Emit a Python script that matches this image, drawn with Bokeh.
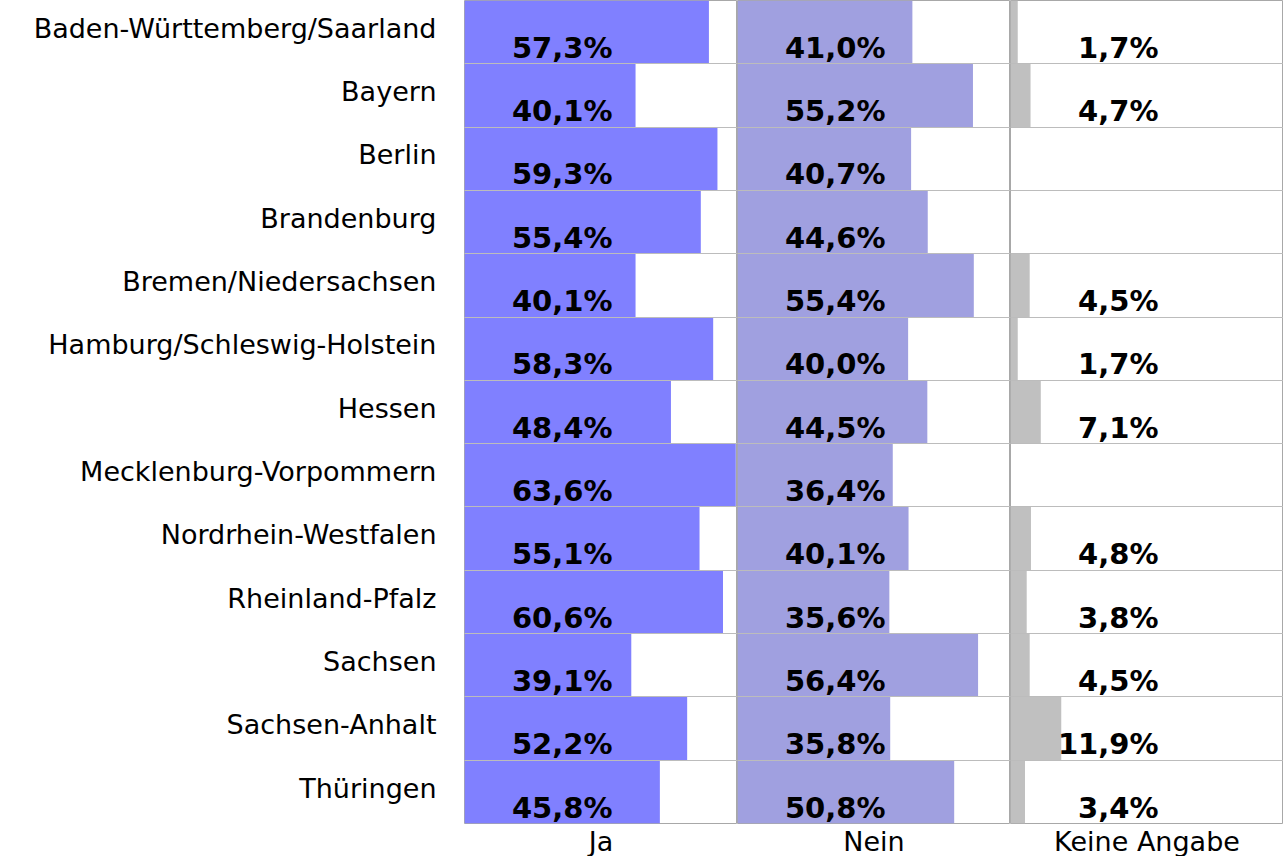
from bokeh.plotting import figure
from bokeh.layouts import row
from bokeh.models import ColumnDataSource, Range1d, FixedTicker, CustomJSTickFormatter, Grid, Title
from bokeh.core.properties import value
from bokeh.embed import file_html
from bokeh.resources import INLINE

states = [
    "Baden-Württemberg/Saarland", "Bayern", "Berlin", "Brandenburg",
    "Bremen/Niedersachsen", "Hamburg/Schleswig-Holstein", "Hessen",
    "Mecklenburg-Vorpommern", "Nordrhein-Westfalen", "Rheinland-Pfalz",
    "Sachsen", "Sachsen-Anhalt", "Thüringen",
]
ja = [57.3, 40.1, 59.3, 55.4, 40.1, 58.3, 48.4, 63.6, 55.1, 60.6, 39.1, 52.2, 45.8]
nein = [41.0, 55.2, 40.7, 44.6, 55.4, 40.0, 44.5, 36.4, 40.1, 35.6, 56.4, 35.8, 50.8]
keine = [1.7, 4.7, None, None, 4.5, 1.7, 7.1, None, 4.8, 3.8, 4.5, 11.9, 3.4]
panel_names = ["Ja", "Nein", "Keine Angabe"]

H = 856
N = len(states)
FONT = "DejaVu Sans"
GRID_COLOR = "#bcbcbc"
OUTLINE_COLOR = "#a8a8a8"


def fmt(v):
    return f"{v:.1f}".replace(".", ",") + "%"


def make_panel(values, color, xmax, width, name, with_labels=False):
    idx = [i for i, v in enumerate(values) if v is not None]
    src = ColumnDataSource(dict(
        y=[i + 0.5 for i in idx],
        ytxt=[i + 1 for i in idx],
        v=[values[i] for i in idx],
        lab=[fmt(values[i]) for i in idx],
    ))
    p = figure(width=width, height=H, x_range=Range1d(0, xmax), y_range=Range1d(N, 0),
               output_backend="svg", toolbar_location=None,
               x_axis_location=None, y_axis_location="left" if with_labels else None,
               min_border=0)
    p.min_border_left = 464 if with_labels else 0
    p.min_border_right = 0
    p.min_border_top = 0
    p.min_border_bottom = 0
    p.outline_line_color = OUTLINE_COLOR
    p.outline_line_width = 1
    p.background_fill_color = "white"
    p.border_fill_color = "white"
    for g in p.grid:
        g.visible = False

    p.hbar(y="y", height=1, left=0, right="v", source=src,
           fill_color=color, line_color=None)
    p.text(x=0, y="ytxt", text="lab", source=src, x_offset=148, y_offset=-16,
           text_align="right", text_baseline="middle",
           text_font=value(FONT), text_font_style="bold",
           text_font_size="29px", text_color="black")

    p.add_layout(Grid(dimension=1, ticker=FixedTicker(ticks=list(range(N + 1))),
                      grid_line_color=GRID_COLOR, grid_line_width=1, level="overlay"))

    if with_labels:
        ax = p.yaxis[0]
        ax.ticker = FixedTicker(ticks=[i + 0.44 for i in range(N)])
        ax.formatter = CustomJSTickFormatter(args=dict(names=states),
                                             code="return names[Math.floor(tick)];")
        ax.axis_line_color = None
        ax.major_tick_line_color = None
        ax.minor_tick_line_color = None
        ax.major_label_standoff = 22
        ax.major_label_text_font = FONT
        ax.major_label_text_font_size = "27px"
        ax.major_label_text_color = "black"

    p.add_layout(Title(text=name, align="center", text_font=FONT,
                       text_font_size="27px", text_font_style="normal",
                       text_color="black", standoff=0, offset=0), "below")
    p.title.visible = False
    return p


p1 = make_panel(ja, "#8080ff", 64, 464 + 273, panel_names[0], with_labels=True)
p2 = make_panel(nein, "#a0a0e0", 64, 273, panel_names[1])
p3 = make_panel(keine, "#c0c0c0", 64, 273, panel_names[2])

layout = row(p1, p2, p3, spacing=0)
open("out.html", "w").write(file_html(layout, INLINE))
